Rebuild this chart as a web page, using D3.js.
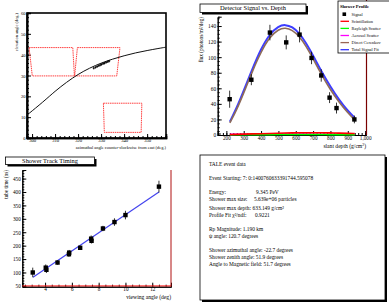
<!DOCTYPE html>
<html>
<head>
<meta charset="utf-8">
<script src="https://cdn.jsdelivr.net/npm/d3@7"></script>
<style>
  body { margin: 0; background: #fff; }
  svg text { font-family: "Liberation Serif", serif; }
</style>
</head>
<body>
<svg id="chart" width="389" height="305"></svg>
<script>
// ---- top-left: detector field of view ----
var fovCurve = [
  [297.8, 11.0], [305, 17.5], [310, 22.5], [315, 26.8], [320, 30.6], [325, 33.6],
  [330, 36.0], [335, 37.9], [340, 39.5], [345, 40.9], [350, 42.0], [355, 43.0], [358.2, 43.6]
];
var trackPoints = [
  [326.8, 33.5], [327.6, 33.9], [328.3, 34.3], [329.0, 34.7], [329.6, 35.0], [330.2, 35.3],
  [330.9, 35.7], [331.5, 35.9], [332.2, 36.3], [332.9, 36.6], [333.5, 36.9]
];
var mirrorBoxes = [
  [[298.7, 43.4], [317.7, 43.4], [318.4, 29.8], [300.1, 29.8]],
  [[319.7, 43.4], [338.2, 43.4], [336.8, 29.8], [318.5, 29.8]],
  [[331.0, 16.7], [347.7, 16.7], [347.4, 2.7], [331.4, 2.7]]
];
var azTicks = [300, 310, 320, 330, 340, 350];
var elevTicks = [0, 10, 20, 30, 40, 50, 60];

// ---- top-right: signal vs depth ----
var sigDepth = [219, 344, 451, 545, 622, 691, 747, 795, 835, 938];
var sigFlux  = [46, 71, 131.6, 119, 129, 99, 76.5, 48, 34.6, 20];
var sigErr   = [11, 7, 10, 9, 10, 8, 8, 7, 7, 5];
var fitDepth = [220, 260, 300, 350, 400, 450, 500, 540, 580, 620, 660, 700, 750, 800, 850, 900, 940];
var totalFit = [17, 35, 57, 85, 111, 130, 140, 142, 139, 131, 118, 102, 81, 62, 45, 31, 22];
var cerenkov = [15.5, 32.5, 54, 82, 107, 126, 136, 138, 135, 127, 114, 98, 77, 58, 42, 28.5, 19.5];
var scint    = [0.5, 0.8, 1.1, 1.4, 1.7, 2.0, 2.3, 2.5, 2.7, 2.9, 3.0, 3.0, 2.9, 2.7, 2.4, 2.1, 1.9];
var rayleigh = [0.3, 0.4, 0.4, 0.5, 0.5, 0.5, 0.6, 0.6, 0.6, 0.6, 0.6, 0.6, 0.6, 0.5, 0.5, 0.5, 0.4];
var aerosol  = [0.8, 0.9, 1.0, 1.0, 1.1, 1.1, 1.1, 1.1, 1.1, 1.1, 1.1, 1.0, 1.0, 1.0, 0.9, 0.9, 0.8];
var depthTicks = [200, 300, 400, 500, 600, 700, 800, 900, 1000];
var fluxTicks = [0, 20, 40, 60, 80, 100, 120, 140];
var legendNames = ["Signal", "Scintillation", "Rayleigh Scatter", "Aerosol Scatter", "Direct Cerenkov", "Total Signal Fit"];
var legendColors = ["#000", "#ff0000", "#00ff00", "#ff00ff", "#996655", "#3333ff"];

// ---- bottom-left: track timing ----
var viewAngle = [3.08, 4.05, 4.1, 4.93, 5.78, 5.8, 6.62, 7.44, 7.47, 8.32, 9.18, 10.0, 12.5];
var tubeTime  = [100, 118, 110, 137, 168, 174, 192, 226, 218, 264, 288, 314, 420];
var timeErr   = [18, 12, 12, 8, 10, 10, 8, 12, 10, 10, 14, 16, 22];
var timeFit   = [[3.1, 82], [12.5, 400]];
var angleTicks = [4, 6, 8, 10, 12];
var timeTicks = [50, 100, 150, 200, 250, 300, 350, 400, 450];

// ---- bottom-right: event text ----
var infoLines = [
  { label: "TALE event data", y: 165 },
  { label: "Event Starting: 7: 0:1400760633391744.595078", y: 179 },
  { label: "Energy:", value: "9.345 PeV", vx: 256, y: 193 },
  { label: "Shower max size:", value: "5.639e+06 particles", vx: 254, y: 200 },
  { label: "Shower max depth:", value: "633.149 g/cm²", vx: 252.5, y: 208.5 },
  { label: "Profile Fit χ²/ndf:", value: "0.9221", vx: 255, y: 216 },
  { label: "Rp Magnitude: 1.190 km", y: 230 },
  { label: "ψ angle: 120.7 degrees", y: 237 },
  { label: "Shower azimuthal angle: -22.7 degrees", y: 251 },
  { label: "Shower zenith angle: 51.9 degrees", y: 258 },
  { label: "Angle to Magnetic field: 51.7 degrees", y: 265 }
];

var svg = d3.select("#chart");

function range(a, b, s) { return d3.range(a, b + s / 2, s); }

// ROOT style axis: ticks drawn inward, minor ticks between
function drawAxis(g, scale, orient, major, minor, bigLen, smallLen, fontSize, font) {
  var mk = orient === "left" ? d3.axisLeft : d3.axisBottom;
  var minorAx = mk(scale).tickValues(minor).tickSize(-smallLen).tickFormat("");
  var majorAx = mk(scale).tickValues(major).tickSize(-bigLen).tickPadding(1.5);
  var gm = g.append("g").call(minorAx);
  var gM = g.append("g").call(majorAx);
  [gm, gM].forEach(function (s) {
    s.select(".domain").attr("stroke-width", 1);
    s.selectAll("text").attr("font-size", fontSize).attr("font-family", font);
  });
  if (orient === "left") gM.selectAll("text").attr("dy", "0.34em");
  else gM.selectAll("text").attr("y", 1).attr("dy", "0.72em");
}

function titleBox(x0, y0, x1, y1, txt, fs) {
  svg.append("rect").attr("x", x0 + 2).attr("y", y0 + 2).attr("width", x1 - x0).attr("height", y1 - y0).attr("fill", "#000");
  svg.append("rect").attr("x", x0).attr("y", y0).attr("width", x1 - x0).attr("height", y1 - y0)
    .attr("fill", "#fff").attr("stroke", "#000").attr("stroke-width", 0.8);
  if (txt) svg.append("text").attr("x", (x0 + x1) / 2).attr("y", (y0 + y1) / 2 + fs * 0.35)
    .attr("text-anchor", "middle").attr("font-size", fs).text(txt);
}

// ===== panel 1 =====
(function () {
  var sans = "Liberation Sans, sans-serif";
  var x = d3.scaleLinear().domain([297.8, 358.2]).range([27, 166]);
  var y = d3.scaleLinear().domain([0, 60]).range([138, 13]);
  var g = svg.append("g");

  g.append("rect").attr("x", 27).attr("y", 13).attr("width", 139).attr("height", 125)
    .attr("fill", "none").attr("stroke", "#000").attr("stroke-width", 1.6);

  var gx = g.append("g").attr("transform", "translate(0,138)");
  drawAxis(gx, x, "bottom", azTicks, range(298, 358, 2), 4, 2, 4.6, sans);
  var gy = g.append("g").attr("transform", "translate(27,0)");
  drawAxis(gy, y, "left", elevTicks, range(0, 60, 2), 4, 2, 4.6, sans);
  g.selectAll(".domain").attr("stroke-width", 1.6);

  var poly = d3.line().x(function (d) { return x(d[0]); }).y(function (d) { return y(d[1]); });
  g.selectAll(".box").data(mirrorBoxes).enter().append("path")
    .attr("d", function (d) { return poly(d) + "Z"; })
    .attr("fill", "none").attr("stroke", "#ff2a2a").attr("stroke-width", 0.9).attr("stroke-dasharray", "1.5,0.7");

  g.append("path").datum(fovCurve).attr("d", poly.curve(d3.curveBasis))
    .attr("fill", "none").attr("stroke", "#111").attr("stroke-width", 1);

  g.selectAll(".trk").data(trackPoints).enter().append("path")
    .attr("d", function (d) {
      var px = x(d[0]), py = y(d[1]);
      return "M" + (px - 1) + "," + py + "H" + (px + 1) + "M" + px + "," + (py - 1.2) + "V" + (py + 1.2);
    })
    .attr("stroke", "#000").attr("stroke-width", 0.9);

  g.append("text").attr("x", 166).attr("y", 148.5).attr("text-anchor", "end")
    .attr("font-size", 4.4).attr("font-family", sans)
    .text("azimuthal angle counter-clockwise from east (deg.)");
  g.append("text").attr("transform", "translate(18,13) rotate(-90)").attr("text-anchor", "end")
    .attr("font-size", 4.4).attr("font-family", sans).text("elevation angle (deg.)");
})();

// ===== panel 2 =====
(function () {
  var x = d3.scaleLinear().domain([150, 1005]).range([217.7, 366]);
  var y = d3.scaleLinear().domain([0, 152]).range([135, 16.7]);
  var g = svg.append("g");

  titleBox(200, 4, 306, 12.5, "Detector Signal vs. Depth", 6.4);

  var gx = g.append("g").attr("transform", "translate(0,135)");
  drawAxis(gx, x, "bottom", depthTicks, range(160, 1000, 20), 4, 2, 5.2, "Liberation Serif, serif");
  var gy = g.append("g").attr("transform", "translate(217.7,0)");
  drawAxis(gy, y, "left", fluxTicks, range(0, 150, 5), 4, 2, 5.4, "Liberation Serif, serif");

  g.append("line").attr("x1", 366.5).attr("x2", 366.5).attr("y1", 0).attr("y2", 135)
    .attr("stroke", "#7a0000").attr("stroke-width", 1.2);

  var ln = d3.line().curve(d3.curveBasis)
    .x(function (d, i) { return x(fitDepth[i]); }).y(function (d) { return y(d); });
  [[aerosol, "#ff00ff"], [rayleigh, "#00ff00"], [scint, "#ff0000"]].forEach(function (s) {
    g.append("path").datum(s[0]).attr("d", ln).attr("fill", "none")
      .attr("stroke", s[1]).attr("stroke-width", 1.6);
  });
  g.append("path").datum(totalFit).attr("d", ln).attr("fill", "none")
    .attr("stroke", "#3d3dff").attr("stroke-width", 2);
  g.append("path").datum(cerenkov).attr("d", ln).attr("fill", "none")
    .attr("stroke", "#8e6b58").attr("stroke-width", 1.6);

  var pts = g.selectAll(".sig").data(sigDepth).enter().append("g");
  pts.append("line")
    .attr("x1", function (d) { return x(d); }).attr("x2", function (d) { return x(d); })
    .attr("y1", function (d, i) { return y(sigFlux[i] + sigErr[i]); })
    .attr("y2", function (d, i) { return y(sigFlux[i] - sigErr[i]); })
    .attr("stroke", "#000").attr("stroke-width", 0.8);
  pts.append("rect")
    .attr("x", function (d) { return x(d) - 2.2; }).attr("y", function (d, i) { return y(sigFlux[i]) - 2.2; })
    .attr("width", 4.4).attr("height", 4.4).attr("fill", "#000");

  g.append("text").attr("x", 366).attr("y", 147.5).attr("text-anchor", "end").attr("font-size", 5.6)
    .html('slant depth (g/cm<tspan dy="-2" font-size="3.8">2</tspan><tspan dy="2">)</tspan>');
  g.append("text").attr("transform", "translate(203,17) rotate(-90)").attr("text-anchor", "end")
    .attr("font-size", 5.2).text("flux (photons/m²/deg)");

  // legend
  var lg = g.append("g");
  lg.append("rect").attr("x", 338).attr("y", 1).attr("width", 52).attr("height", 52)
    .attr("fill", "#fff").attr("stroke", "#000").attr("stroke-width", 0.8);
  lg.append("text").attr("x", 340).attr("y", 7.5).attr("font-size", 4.6).attr("font-weight", "bold")
    .attr("font-family", "Liberation Sans, sans-serif").text("Shower Profile");
  legendNames.forEach(function (nm, i) {
    var ly = 14.2 + i * 7.1;
    if (i === 0) {
      lg.append("rect").attr("x", 342.5).attr("y", ly - 1.8).attr("width", 3.6).attr("height", 3.6).attr("fill", "#000");
    } else {
      lg.append("line").attr("x1", 340.5).attr("x2", 349).attr("y1", ly).attr("y2", ly)
        .attr("stroke", legendColors[i]).attr("stroke-width", 1.3);
    }
    lg.append("text").attr("x", 351.5).attr("y", ly + 1.5).attr("font-size", 4.4).text(nm);
  });
})();

// ===== panel 3 =====
(function () {
  var x = d3.scaleLinear().domain([2.3, 13.4]).range([22.3, 171]);
  var y = d3.scaleLinear().domain([47, 482]).range([286.7, 170]);
  var g = svg.append("g");

  titleBox(5.5, 157, 94.5, 164.5, "Shower Track Timing", 6.4);

  var gx = g.append("g").attr("transform", "translate(0,286.7)");
  drawAxis(gx, x, "bottom", angleTicks, range(2.5, 13, 0.5), 4, 2, 5.2, "Liberation Serif, serif");
  var gy = g.append("g").attr("transform", "translate(22.3,0)");
  drawAxis(gy, y, "left", timeTicks, range(50, 480, 10), 4, 2, 5.2, "Liberation Serif, serif");

  g.append("line").attr("x1", 22.3).attr("x2", 171).attr("y1", y(50)).attr("y2", y(50))
    .attr("stroke", "#ff2020").attr("stroke-width", 1);
  g.append("line").attr("x1", 171).attr("x2", 171).attr("y1", 170).attr("y2", 286.7)
    .attr("stroke", "#b01010").attr("stroke-width", 1);

  g.append("line").attr("x1", x(timeFit[0][0])).attr("y1", y(timeFit[0][1]))
    .attr("x2", x(timeFit[1][0])).attr("y2", y(timeFit[1][1]))
    .attr("stroke", "#4444ee").attr("stroke-width", 1.2);

  var pts = g.selectAll(".tt").data(viewAngle).enter().append("g");
  pts.append("line")
    .attr("x1", function (d) { return x(d); }).attr("x2", function (d) { return x(d); })
    .attr("y1", function (d, i) { return y(tubeTime[i] + timeErr[i]); })
    .attr("y2", function (d, i) { return y(tubeTime[i] - timeErr[i]); })
    .attr("stroke", "#000").attr("stroke-width", 0.8);
  pts.append("rect")
    .attr("x", function (d) { return x(d) - 2.2; }).attr("y", function (d, i) { return y(tubeTime[i]) - 2.2; })
    .attr("width", 4.4).attr("height", 4.4).attr("fill", "#000");

  g.append("text").attr("x", 171).attr("y", 298.5).attr("text-anchor", "end").attr("font-size", 5.6)
    .text("viewing angle (deg)");
  g.append("text").attr("transform", "translate(8,170) rotate(-90)").attr("text-anchor", "end")
    .attr("font-size", 5.2).text("tube time (ns)");
})();

// ===== panel 4 =====
(function () {
  var sx = 0.93;
  titleBox(200, 155, 385, 300, null, 0);
  var g = svg.append("g").attr("transform", "translate(209,0) scale(" + sx + ",1) translate(-209,0)");
  infoLines.forEach(function (d) {
    g.append("text").attr("x", 209).attr("y", d.y + 1.5).attr("font-size", 5.8).text(d.label);
    if (d.value) g.append("text").attr("x", 209 + (d.vx - 209) / sx).attr("y", d.y + 1.5)
      .attr("font-size", 5.8).text(d.value);
  });
})();
</script>
</body>
</html>
